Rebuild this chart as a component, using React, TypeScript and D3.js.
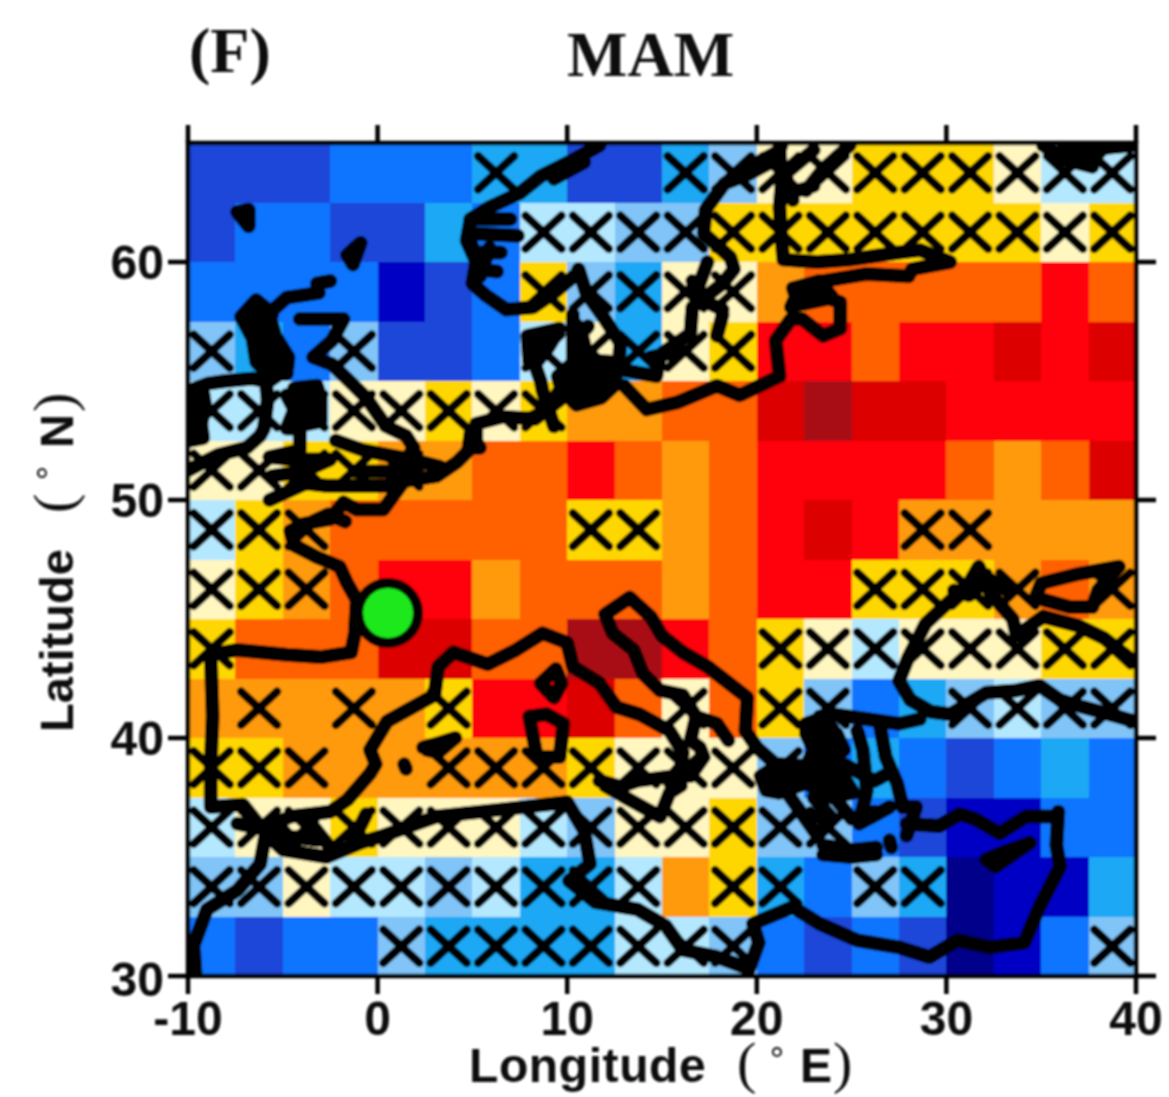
import React from "react";
import * as d3 from "d3";

const W = 1169, H = 1097;
const lonTicks = [-10, 0, 10, 20, 30, 40];
const latTicks = [30, 40, 50, 60];
const levelColors = ["#00008a", "#0000c4", "#1a47d8", "#0f75ff", "#1aa8f5", "#80c4f8", "#b3e8ff", "#fff6c0", "#ffd700", "#ff9a0a", "#ff6000", "#ff0008", "#dc0005", "#a80a14"];

// rows from north (62.5–65) to south (30–32.5); columns from 10W in 2.5° steps
const levels = [
  [2,2,2,3,3,3,4,4,2,2,4,5,7,7,8,8,8,7,6,6],
  [2,3,3,2,2,4,3,6,6,5,5,8,8,8,8,8,8,8,7,8],
  [3,3,3,3,1,2,3,8,5,4,7,7,9,10,10,10,10,10,11,10],
  [5,4,3,5,2,2,3,6,7,4,7,8,11,11,10,11,11,12,11,12],
  [6,6,6,7,7,8,7,8,9,9,10,10,12,13,12,12,11,11,11,11],
  [7,7,8,8,9,9,10,10,11,10,9,10,11,11,11,11,10,9,10,12],
  [6,8,9,10,10,10,10,10,8,8,9,10,11,12,11,9,9,9,9,9],
  [7,8,9,10,11,11,9,10,10,10,9,10,11,11,8,8,8,9,10,9],
  [8,10,10,10,12,12,10,10,13,13,11,10,8,7,6,7,7,7,8,8],
  [9,9,9,9,9,8,11,11,12,10,7,10,8,5,3,4,5,6,5,5],
  [8,8,9,9,9,9,9,9,8,7,7,7,5,3,4,3,2,3,4,3],
  [6,7,7,8,7,7,7,6,5,7,7,8,5,5,3,2,1,1,3,3],
  [5,5,7,6,6,5,6,4,4,6,9,8,4,3,5,4,0,1,1,4],
  [3,2,3,3,5,4,4,4,4,6,6,5,3,2,3,2,0,1,3,5],
];
const crosses = [
  [6,10,11,12,13,14,15,16,17,18,19],
  [7,8,9,10,11,12,13,14,15,16,17,18,19],
  [7,8,9,10,11],
  [0,3,7,8,9,10,11],
  [0,1,2,3,4,5,6,7],
  [0,1,2,3,4],
  [0,1,2,8,9,15,16],
  [0,1,2,14,15,16,17,19],
  [0,12,13,14,15,16,17,18,19],
  [1,3,5,10,12,13,16,17,18,19],
  [0,1,2,5,6,7,8,9,10,11,12],
  [0,1,2,3,4,5,6,7,8,9,10,11,12,13],
  [0,1,2,3,4,5,6,7,8,9,11,12,14,15],
  [4,5,6,7,8,9,10,11,19],
];
const site = [0.55, 45.25];

type P = [number, number];
// solid black land clusters where the coastline traces merge
const blobs: P[][] = [
  [[-7.4,62.1],[-6.8,62.2],[-6.8,61.5]],
  [[-0.9,60.8],[-1.6,60.3],[-1.3,59.9]],
  [[-6.4,58.4],[-7.2,57.7],[-6.6,56.8],[-6.4,55.8],[-5.8,55.3],[-4.8,55.3],[-4.7,56],[-5.4,56.9],[-5.8,58]],
  [[-9.9,54.4],[-9.2,54.5],[-9.1,54],[-9.3,53.2],[-9.2,52.6],[-9.9,52.5]],
  [[-4.4,54.7],[-3.2,54.8],[-3,54.3],[-3,53.3],[-4.2,53.1],[-3.6,53.9]],
  [[9.5,55.2],[10.5,55.9],[12.4,55.8],[12.6,54.9],[11.8,54.3],[10.5,54],[9.7,54.6]],
  [[7.9,56.9],[9.6,57.2],[9,56.4],[8.4,55.8],[8,55.8]],
  [[10.3,57.5],[10.7,57.2],[11,56.2],[10.4,55.9]],
  [[21.9,58.9],[23.3,59.2],[24,58.5],[22.2,58.2]],
  [[4.9,52.8],[5.4,52.2],[4.8,52.2]],
  [[20.5,37.8],[20.2,38.4],[21.2,38.9],[23,38.8],[24,39.1],[25.1,37.7],[23.9,37.5],[22.6,38.1],[21.2,37.7]],
  [[23.1,39.9],[24.2,40.2],[24.6,39.5],[23.7,38.9]],
];
const coasts: P[][] = [
  // Orkney and Great Britain
  [[-2.5,59.2],[-3.2,59.1],[-3.1,58.7],[-4.8,58.5],[-5.5,58],[-5.9,56.9],[-5.2,56],[-4.8,55.5],[-5.7,55]],
  [[-4.1,57.6],[-1.8,57.6],[-2.4,56.7],[-3.4,56],[-2.4,55.7],[-1.5,55],[-0.6,54.3],[0.45,53.1],[1.5,52.7],[1.9,52.2],[1.3,51.4],[1.7,50.9],[0.45,50.6],[-2.7,50.6],[-3.8,50.7],[-5.7,50]],
  [[-5.7,51.8],[-4.1,52.1],[-4.1,53],[-4.8,53],[-4.4,53.8],[-4.8,54.4]],
  [[-5.6,51],[-3.9,51.2],[-2.5,51.7],[-4.5,51.7],[-5.7,51.8]],
  [[-3.7,54.6],[-3.2,53.7],[-3.8,53.3]],
  [[-2.2,52.5],[-0.8,52.1],[0.5,51.9],[1.8,51.7],[3.3,51.4]],
  [[-1.2,51.2],[0.6,51.2],[2.3,51.5]],
  // Ireland
  [[-9.9,54.6],[-8.9,54.9],[-8,55],[-6.6,55.1],[-5.9,55],[-5.8,54.2],[-6,53],[-6.2,52.7],[-6.9,52.2],[-8.4,51.9],[-9.4,51.5],[-10.1,51.2]],
  // Norway, Skagerrak
  [[11.7,64.9],[10.1,64.2],[8.6,63.6],[7.5,62.9],[5.9,62.3],[4.9,61.8],[4.7,60.9],[5.2,60],[5,59.1],[5.7,58.6],[6.8,58],[8.2,58.1],[9.3,58.7],[10.5,59.5],[10.6,59.7],[11,58.7],[11.9,57.7],[12.8,56.6],[12.7,55.5],[14.7,55.2],[14.9,56.1],[16.5,57],[16.6,58.1],[18.2,59.1],[18.8,59.7],[18.6,60.2],[17.2,61.2],[17.3,62.2],[18.3,63.3],[19.6,63.7],[21,64.3],[21.3,64.9]],
  [[10.9,64.2],[9.3,63.5]],
  [[4.9,61.8],[7,61.8]],
  [[4.8,61.2],[7.4,61.1]],
  [[5,60.4],[6.5,60.4]],
  [[5.2,59.7],[6.3,59.6]],
  [[4.9,60.9],[5.4,59.4],[5.9,60.6]],
  [[10.3,57.8],[10.3,55.9]],
  [[11,57.2],[11.1,57.3]],
  [[18.2,57.8],[17.9,56.9]],
  [[14.4,56],[15.8,56.2]],
  [[16.6,59.2],[17.4,58.3],[18.2,58]],
  [[17.4,60],[16.8,58.7]],
  // Baltic: Gulf of Bothnia, Finland and south shore
  [[21.2,64.9],[21.3,63.2],[21.2,62.3],[21.3,61],[21.4,60.1],[23.2,60],[24.9,60.1],[27.5,60.4],[28.6,60.5],[30.2,60],[28.2,59.7],[28,59.4],[25.8,59.5],[23.5,59.2],[22.2,58.8],[21.8,58.1],[23,58.7],[24.4,58.3],[24.4,57.2],[23.5,56.9],[22.4,57.6],[21.8,57.6],[21,56.7],[21.2,55.2],[19.1,54.4],[17.9,54.8],[15.8,54.1],[14.2,53.8],[13,54.8]],
  [[24.9,64.9],[23.5,63.9],[22.6,63]],
  [[19.2,63.8],[21,64.6]],
  [[21.3,62.8],[23,63.2]],
  [[21.9,62.6],[21.5,63.7],[23,64.7]],
  // Denmark
  [[8.2,55.9],[8.6,55],[8.7,54.6],[9.3,53.1]],
  [[8,53.4],[9,53.8],[9.5,54.5]],
  // Atlantic coast of continental Europe, Mediterranean shore to Italy
  [[9.6,54.2],[8.3,53.4],[6.6,53.5],[5.2,53.2],[5.2,52.4],[4.2,51.6],[3.1,51],[1.4,50.8],[0.3,49.6],[-1.1,49.6],[-1.8,49.9],[-2.5,49.2],[-3.9,49],[-4.6,48.7],[-4.4,48.1],[-3.2,47.6],[-2,47.2],[-1.6,46.5],[-1.1,45.8],[-1.2,44.4],[-1.4,43.6],[-3,43.4],[-4.8,43.5],[-7.4,43.7],[-8.8,43.5],[-8.7,40.9],[-8.8,38.9],[-8.8,37.1],[-7.1,37.2],[-6.2,36.3],[-5.7,36.3],[-4.6,36.7],[-2.5,36.9],[-1.6,37.4],[-0.4,38.5],[-0.1,38.9],[-0.4,39.5],[0.5,40.7],[1.4,41.1],[3,41.8],[3.2,43],[4,43.6],[5.8,43.1],[7.3,43.7],[8.7,44.4],[10,44],[10.3,43],[11.7,42.3],[12.6,41.3],[13.8,41],[15.4,40.3],[16.1,39.4],[16,38.8],[15.6,38.4]],
  [[-4.4,48.7],[-3.4,49.1],[-2.6,49.4],[-1.7,49.1]],
  // Italy toe, heel, Adriatic and Balkans
  [[15.6,38.4],[16.5,38.4],[17.2,39.2],[17,39.6],[16.5,39.9],[16.8,40.9],[17.9,40.6],[18.5,39.9]],
  [[16.8,40.9],[16.1,41.8],[14.9,42],[14,42.7],[13.5,43.7],[12.4,44.4],[12,45.2],[13.3,45.9],[14.4,45.1],[15,44.3],[16.1,43.6],[17.4,43],[19.5,41.7],[19.4,40.3],[20,39.6],[21,38.9],[20.7,37.8]],
  // Sicily
  [[11.7,38.2],[12.8,37.96],[13.7,38.2],[15.6,38.4]],
  [[12,38],[13.3,37.4],[14.9,36.7],[15.4,37.7],[16,38]],
  // Corsica, Sardinia, Balearics
  [[9.4,42.9],[8.6,42.3],[9.3,41.7],[9.7,42.3],[9.4,42.9]],
  [[8,40.9],[8.4,39.2],[9.6,39.2],[9.8,40.6],[8.9,41],[8,40.9]],
  [[1.4,38.9],[1.5,38.7]],
  [[2.4,39.6],[3.3,39.8],[4.1,40],[3.2,39.4],[2.6,39.5]],
  // Greece, Aegean islands, Crete
  [[21.6,37.7],[23.2,35.9],[24,36.6],[23,37.5]],
  [[22.6,40.2],[22.6,40.6],[24,41],[27.5,40.6],[28.6,40.8]],
  [[22.6,40.6],[23.3,40.1],[24,40.4],[23.3,40.9]],
  [[22.6,38.8],[23,39.5],[22.6,40.2]],
  [[26.5,40.5],[26.8,39.2],[27.4,38.1],[27.7,37.1],[28.4,37.1],[27.9,35.9]],
  [[25.3,40.3],[25.6,39.5],[25.8,37.8],[25.4,36.4],[27,37.1]],
  [[24.6,38.9],[26.2,38.2],[26.9,38.5]],
  [[24.1,37.5],[25,36.6],[26.2,36.9]],
  [[23.5,35.5],[25,35.3],[26.3,35.4]],
  [[23.5,35.1],[25,35],[26.3,35.1]],
  [[27,35.7],[27.1,35.4]],
  // Cyprus
  [[32.1,34.9],[33,35.2],[34.4,35.6],[33.5,35.1],[32.6,34.6],[32.1,34.9]],
  // Turkey, Levant, North Africa
  [[27.9,36.4],[29.6,36.3],[30.7,36.8],[31.5,36.6],[32.8,36],[34.2,36.7],[35.8,36.7],[35.9,36.9],[35.8,35.5],[36,34.6],[34.9,32.9],[34.1,31.4],[32.3,31.2],[30.6,31.5],[29.1,30.8],[27.5,31.2],[25.3,31.5],[23.3,32.2],[21.9,32.9],[19.8,32.2],[20.1,31.4],[19.6,30.3],[17.9,30.8],[16.1,31.1],[15.2,32.1],[13.7,32.8],[11.5,33.1],[10.1,34],[11.2,34.7],[10.9,36.1],[10,37.3],[6.6,37],[3.1,36.7],[0.3,35.9],[-0.9,35.6],[-2.7,35],[-5,35.3],[-5.9,36],[-6.2,34.7],[-7.4,33.6],[-9,32.8],[-9.7,31.3],[-9.6,30]],
  [[-7.4,36.4],[-6.2,36.2],[-5,35.9],[-3.2,35.7]],
  [[-5.2,36.3],[-4.4,35.6],[-3.4,36.3],[-2.6,35.5]],
  [[-1.4,35.5],[-0.6,36.8]],
  // Black Sea and Azov
  [[28.1,41.6],[27.5,42.4],[28,43.4],[28.9,44.8],[29.7,45.4],[31.2,46.5],[31.7,47.2],[32.3,46.1],[33.5,45],[33.7,44.3],[35.1,45.1],[37,44.7],[38.3,44.2],[39.9,43.2]],
  [[28.1,41.6],[29.2,41.1],[30.2,41],[32.1,41.9],[33.7,42],[34.9,42.2],[36,41.6],[37.2,41.3],[38.6,41],[39.9,40.7]],
  [[30.4,46.2],[31.2,46],[32.2,46.7],[33.2,46.2]],
  [[34.7,45.9],[35,46.5],[37,46.9],[39.1,47.2],[38,46.2],[37.7,45.5],[36.5,45.5],[34.7,45.9]],
  // White Sea corner
  [[35.1,64.9],[36.3,64.3],[37.7,64],[37.2,64.7],[39.8,64.9]],
  [[36.2,64.9],[37.7,64.3],[38.3,64.8]],
];

const x = d3.scaleLinear().domain([-10, 40]).range([188, 1136]);
const y = d3.scaleLinear().domain([30, 65]).range([976, 143]);
const coastPath = d3.line<P>().x((d) => x(d[0])).y((d) => y(d[1]));
const color = d3.scaleOrdinal<number, string>().domain(d3.range(levelColors.length)).range(levelColors);
const step = 2.5;
const sans = "'Liberation Sans', Arial, sans-serif";
const serif = "'Liberation Serif', 'Times New Roman', serif";
const ink = "#111";

export default function App() {
  const top = 65;
  return (
    <svg width={W} height={H} viewBox={`0 0 ${W} ${H}`} style={{ position: "absolute", left: 0, top: 0, display: "block", background: "#fff" }}>
      <defs>
        <clipPath id="map"><rect x={x(-10)} y={y(65)} width={x(40) - x(-10)} height={y(30) - y(65)} /></clipPath>
        <filter id="soft" x="-5%" y="-5%" width="110%" height="110%"><feGaussianBlur stdDeviation="0.8" /></filter>
      </defs>
      <g filter="url(#soft)">
        <g shapeRendering="crispEdges">
          {levels.map((row, r) => row.map((v, c) => {
            const lon = -10 + c * step, lat = top - r * step;
            return <rect key={`${r}-${c}`} x={x(lon)} y={y(lat)} width={x(lon + step) - x(lon) + 0.5} height={y(lat - step) - y(lat) + 0.5} fill={color(v)} />;
          }))}
        </g>
        <g stroke="#000" strokeWidth={8.5} strokeLinecap="round">
          {crosses.map((cols, r) => cols.map((c) => {
            const lon = -10 + (c + 0.5) * step, lat = top - (r + 0.5) * step;
            const dx = x(lon + 0.95) - x(lon), dy = y(lat - 0.7) - y(lat);
            return (
              <g key={`${r}-${c}`}>
                <line x1={x(lon) - dx} y1={y(lat) - dy} x2={x(lon) + dx} y2={y(lat) + dy} />
                <line x1={x(lon) - dx} y1={y(lat) + dy} x2={x(lon) + dx} y2={y(lat) - dy} />
              </g>
            );
          }))}
        </g>
        <g clipPath="url(#map)" stroke="#000" strokeWidth={14} strokeLinejoin="round" strokeLinecap="round">
          <g fill="#000">{blobs.map((c, i) => <path key={i} d={(coastPath(c) ?? "") + "Z"} />)}</g>
          <g fill="none">{coasts.map((c, i) => <path key={i} d={coastPath(c) ?? ""} />)}</g>
        </g>
        <circle cx={x(site[0])} cy={y(site[1])} r={30} fill="#1fe81a" stroke="#000" strokeWidth={10} />
        <g stroke="#000" strokeWidth={4.5} fill="none">
          <rect x={x(-10)} y={y(65)} width={x(40) - x(-10)} height={y(30) - y(65)} />
          {lonTicks.map((t) => (
            <g key={t}>
              <line x1={x(t)} x2={x(t)} y1={y(65)} y2={y(65) - 18} />
              <line x1={x(t)} x2={x(t)} y1={y(30)} y2={y(30) + 18} />
            </g>
          ))}
          {latTicks.map((t) => (
            <g key={t}>
              <line x1={x(-10)} x2={x(-10) - 20} y1={y(t)} y2={y(t)} />
              <line x1={x(40)} x2={x(40) + 20} y1={y(t)} y2={y(t)} />
            </g>
          ))}
        </g>
        <g fontFamily={sans} fontWeight="bold" fontSize={48} fill={ink}>
          {lonTicks.map((t) => <text key={t} x={x(t)} y={1035} textAnchor="middle">{t}</text>)}
          {latTicks.map((t) => <text key={t} x={164} y={y(t) + (t === 30 ? 20 : 17)} textAnchor="end">{t}</text>)}
          <text x={469} y={1082} letterSpacing={0.6}>Longitude</text>
          <text x={737} y={1082} fontWeight="normal" fontFamily={serif} fontSize={58}>(</text>
          <text x={777} y={1073} fontSize={36} fontWeight="normal" textAnchor="middle">°</text>
          <text x={800} y={1082}>E</text>
          <text x={833} y={1082} fontWeight="normal" fontFamily={serif} fontSize={58}>)</text>
          <g transform="translate(73,732) rotate(-90)" fontSize={47}>
            <text x={0} y={0}>Latitude</text>
            <text x={219} y={0} fontWeight="normal" fontFamily={serif} fontSize={58}>(</text>
            <text x={259} y={-10} fontSize={36} fontWeight="normal" textAnchor="middle">°</text>
            <text x={284} y={0}>N</text>
            <text x={320} y={0} fontWeight="normal" fontFamily={serif} fontSize={58}>)</text>
          </g>
        </g>
        <g fontFamily={serif} fontWeight="bold" fill={ink} fontSize={64}>
          <text x={189} y={72}>(F)</text>
          <text x={567} y={76}>MAM</text>
        </g>
      </g>
    </svg>
  );
}
